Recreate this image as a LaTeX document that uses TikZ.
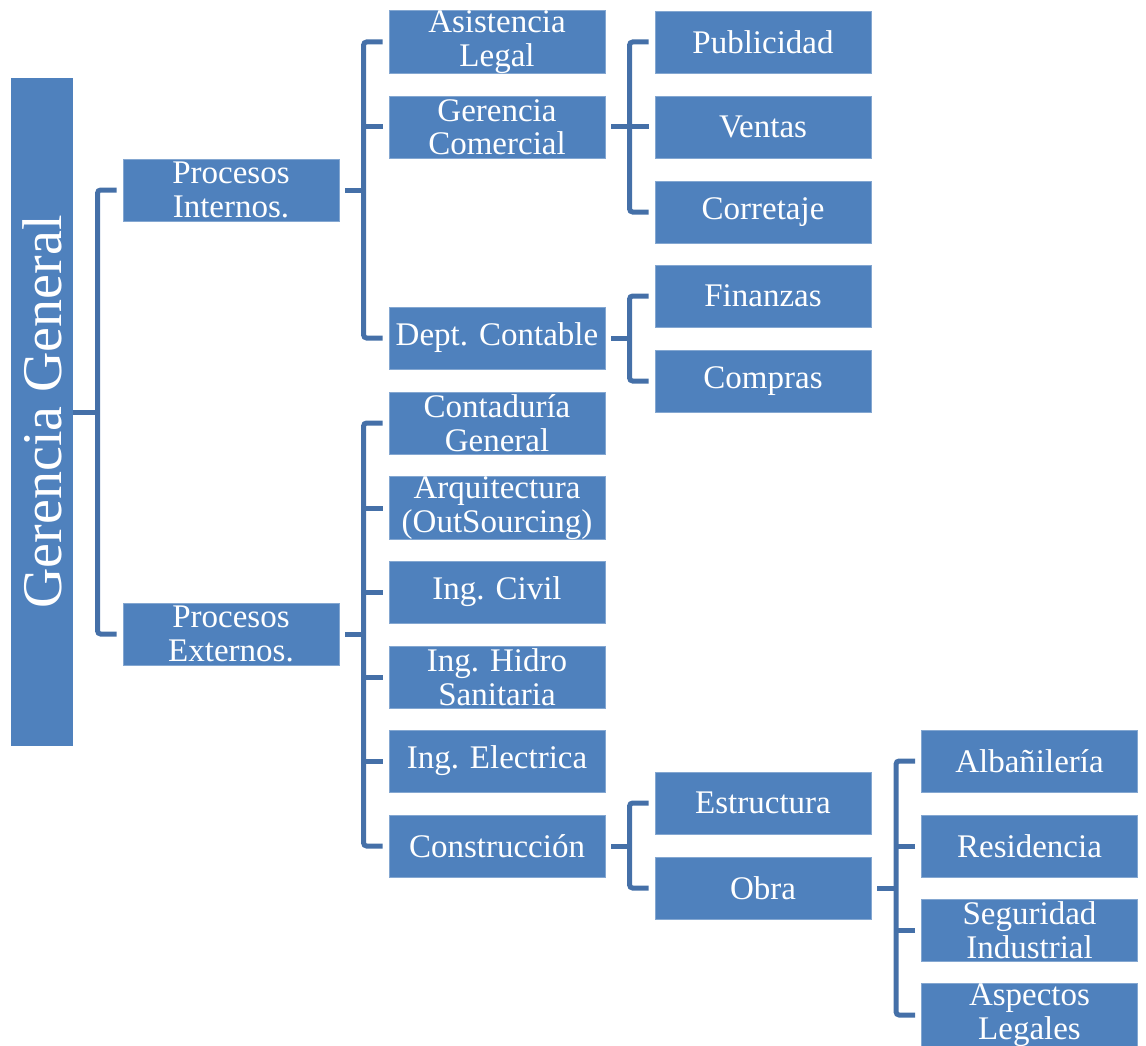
\documentclass[tikz,border=0pt]{standalone}
\usepackage{fontspec}
\setmainfont{Liberation Serif}
\definecolor{boxblue}{HTML}{4F81BD}
\definecolor{lineblue}{HTML}{4570A8}
\begin{document}
\begin{tikzpicture}[x=1pt,y=-1pt,
  box/.style={fill=boxblue, draw=boxblue!70!white, line width=0.8pt, text=white, align=center,
    minimum width=216pt, minimum height=62pt, inner sep=0pt,
    font=\fontsize{33}{33.5}\selectfont},
  conn/.style={draw=lineblue, line width=5pt, rounded corners=3pt}]
\useasboundingbox (0,0) rectangle (1146,1046);
% root
\node[fill=boxblue, minimum width=62pt, minimum height=668pt, inner sep=0pt] (gg) at (42,412) {};
\node[text=white, rotate=90, font=\fontsize{56}{58}\selectfont] (ggt) at (gg.center) {Gerencia General};
% column 1
\node[box] (pi) at (231,190) {Procesos\\Internos.};
\node[box] (pe) at (231,634) {Procesos\\Externos.};
% column 2
\node[box] (al) at (497,42) {Asistencia\\Legal};
\node[box] (gc) at (497,127) {Gerencia\\Comercial};
\node[box] (dc) at (497,338) {Dept. Contable};
\node[box] (cg) at (497,423) {Contaduría\\General};
\node[box] (ar) at (497,508) {Arquitectura\\(OutSourcing)};
\node[box] (ic) at (497,592) {Ing. Civil};
\node[box] (ih) at (497,677) {Ing. Hidro\\Sanitaria};
\node[box] (ie) at (497,761) {Ing. Electrica};
\node[box] (co) at (497,846) {Construcción};
% column 3
\node[box] (pu) at (763,42) {Publicidad};
\node[box] (ve) at (763,127) {Ventas};
\node[box] (cr) at (763,212) {Corretaje};
\node[box] (fi) at (763,296) {Finanzas};
\node[box] (cm) at (763,381) {Compras};
\node[box] (es) at (763,803) {Estructura};
\node[box] (ob) at (763,888) {Obra};
% column 4
\node[box] (ab) at (1029.5,761) {Albañilería};
\node[box] (re) at (1029.5,846) {Residencia};
\node[box] (si) at (1029.5,930) {Seguridad\\Industrial};
\node[box] (ap) at (1029.5,1015) {Aspectos\\Legales};
% connectors: Gerencia General
\draw[conn] (gg.east) -- ([xshift=25pt]gg.east);
\draw[conn] ([xshift=-6pt]pi.west) -| ([xshift=-25pt]pe.west) -- ([xshift=-6pt]pe.west);
% Procesos Internos
\draw[conn] ([xshift=6pt]pi.east) -- ([xshift=25pt]pi.east);
\draw[conn] ([xshift=-6pt]al.west) -| ([xshift=-25pt]dc.west) -- ([xshift=-6pt]dc.west);
\draw[conn] ([xshift=-6pt]gc.west) -- ([xshift=-25pt]gc.west);
% Procesos Externos
\draw[conn] ([xshift=6pt]pe.east) -- ([xshift=25pt]pe.east);
\draw[conn] ([xshift=-6pt]cg.west) -| ([xshift=-25pt]co.west) -- ([xshift=-6pt]co.west);
\foreach \n in {ar,ic,ih,ie}{\draw[conn] ([xshift=-6pt]\n.west) -- ([xshift=-25pt]\n.west);}
% Gerencia Comercial
\draw[conn] ([xshift=6pt]gc.east) -- ([xshift=25pt]gc.east);
\draw[conn] ([xshift=-6pt]pu.west) -| ([xshift=-25pt]cr.west) -- ([xshift=-6pt]cr.west);
\draw[conn] ([xshift=-6pt]ve.west) -- ([xshift=-25pt]ve.west);
% Dept. Contable
\draw[conn] ([xshift=6pt]dc.east) -- ([xshift=25pt]dc.east);
\draw[conn] ([xshift=-6pt]fi.west) -| ([xshift=-25pt]cm.west) -- ([xshift=-6pt]cm.west);
% Construccion
\draw[conn] ([xshift=6pt]co.east) -- ([xshift=25pt]co.east);
\draw[conn] ([xshift=-6pt]es.west) -| ([xshift=-25pt]ob.west) -- ([xshift=-6pt]ob.west);
% Obra
\draw[conn] ([xshift=6pt]ob.east) -- ([xshift=25pt]ob.east);
\draw[conn] ([xshift=-6pt]ab.west) -| ([xshift=-25pt]ap.west) -- ([xshift=-6pt]ap.west);
\foreach \n in {re,si}{\draw[conn] ([xshift=-6pt]\n.west) -- ([xshift=-25pt]\n.west);}
\end{tikzpicture}
\end{document}
